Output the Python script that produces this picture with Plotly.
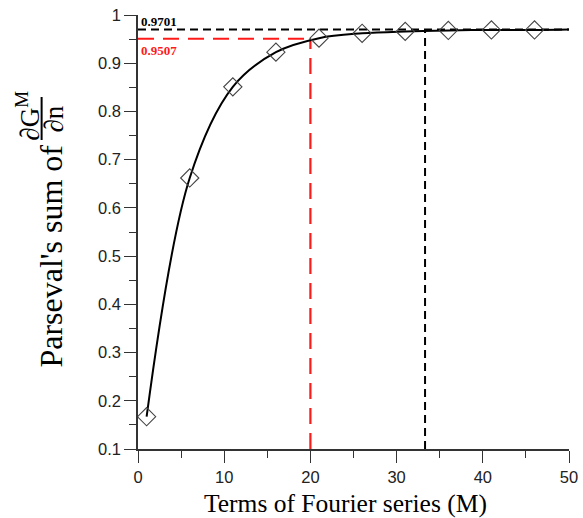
import plotly.graph_objects as go

# Data
terms_m = [1, 6, 11, 16, 21, 26, 31, 36, 41, 46]
parseval_sum = [0.167, 0.662, 0.851, 0.923, 0.952, 0.962, 0.966, 0.968, 0.969, 0.969]
curve_x = [1, 6, 11, 16, 21, 26, 31, 36, 41, 46, 50]
curve_y = [0.167, 0.662, 0.851, 0.923, 0.952, 0.962, 0.966, 0.968, 0.969, 0.969, 0.9701]

level_black = 0.9701
m_black = 33.3
level_red = 0.9507
m_red = 20

x_ticks = [0, 10, 20, 30, 40, 50]
y_ticks = [0.1, 0.2, 0.3, 0.4, 0.5, 0.6, 0.7, 0.8, 0.9, 1]
y_tick_text = ["0.1", "0.2", "0.3", "0.4", "0.5", "0.6", "0.7", "0.8", "0.9", "1"]

W, H = 583, 518
L, R, T, B = 137.5, 14, 15, 69
pw, ph = W - L - R, H - T - B

def px(xp):
    return (xp - L) / pw

def py(yp):
    return (H - B - yp) / ph

fig = go.Figure()

# reference lines
fig.add_trace(go.Scatter(x=[0, 50], y=[level_black, level_black], mode="lines",
                         line=dict(color="black", width=2, dash="8px,5px"), hoverinfo="skip"))
fig.add_trace(go.Scatter(x=[m_black, m_black], y=[0.1, level_black], mode="lines",
                         line=dict(color="black", width=2, dash="8px,5px"), hoverinfo="skip"))
fig.add_trace(go.Scatter(x=[0, m_red], y=[level_red, level_red], mode="lines",
                         line=dict(color="#ff1a1a", width=2.2, dash="16px,9px"), hoverinfo="skip"))
fig.add_trace(go.Scatter(x=[m_red, m_red], y=[0.1, level_red], mode="lines",
                         line=dict(color="#ff1a1a", width=2.2, dash="16px,9px"), hoverinfo="skip"))

# curve
fig.add_trace(go.Scatter(x=curve_x, y=curve_y, mode="lines",
                         line=dict(color="black", width=2, shape="spline", smoothing=1.0)))
# markers
fig.add_trace(go.Scatter(x=terms_m, y=parseval_sum, mode="markers",
                         marker=dict(symbol="diamond-open", size=14, color="#444444",
                                     line=dict(width=1.1, color="#444444"))))

axis_common = dict(showline=True, linecolor="#333333", linewidth=1.6, ticks="outside",
                   ticklen=12, tickwidth=1.4, tickcolor="#333333", showgrid=False, zeroline=False,
                   tickfont=dict(family="Liberation Sans, Arial", size=16.5, color="#222222"),
                   mirror=False, automargin=False)

fig.update_xaxes(range=[0, 50], tickvals=x_ticks, ticktext=[str(v) for v in x_ticks],
                 minor=dict(ticks="outside", ticklen=7, tickwidth=1.4, tickcolor="#333333", dtick=5),
                 **axis_common)
fig.update_yaxes(range=[0.1, 1], tickvals=y_ticks, ticktext=y_tick_text,
                 minor=dict(ticks="outside", ticklen=7, tickwidth=1.4, tickcolor="#333333", dtick=0.05, tick0=0.1),
                 **axis_common)

serif = "Liberation Serif, Times New Roman, serif"

def a(text, xp, yp, size, color="black", angle=0, xanchor="center"):
    return dict(text=text, x=px(xp), y=py(yp), xref="paper", yref="paper",
                xanchor=xanchor, yanchor="middle", showarrow=False, textangle=angle,
                font=dict(family=serif, size=size, color=color))

ann = [
    a("Terms of Fourier series (M)", 345, 503, 25.5),
    a("Parseval's sum of", 50, 256, 32, angle=-90),
    a("∂G<sup>M</sup>", 27, 116, 27, angle=-90),
    a("∂n", 53, 119, 27, angle=-90),
    a("<b>0.9701</b>", 139, 22, 13, xanchor="left"),
    a("<b>0.9507</b>", 139, 51, 13, color="#ff1a1a", xanchor="left"),
]

shapes = [dict(type="line", xref="paper", yref="paper", x0=px(41), x1=px(41), y0=py(97), y1=py(140),
               line=dict(color="black", width=2))]

fig.update_layout(width=W, height=H, margin=dict(l=L, r=R, t=T, b=B, autoexpand=False),
                  paper_bgcolor="white", plot_bgcolor="white", showlegend=False,
                  annotations=ann, shapes=shapes)

fig.write_html("out.html")
